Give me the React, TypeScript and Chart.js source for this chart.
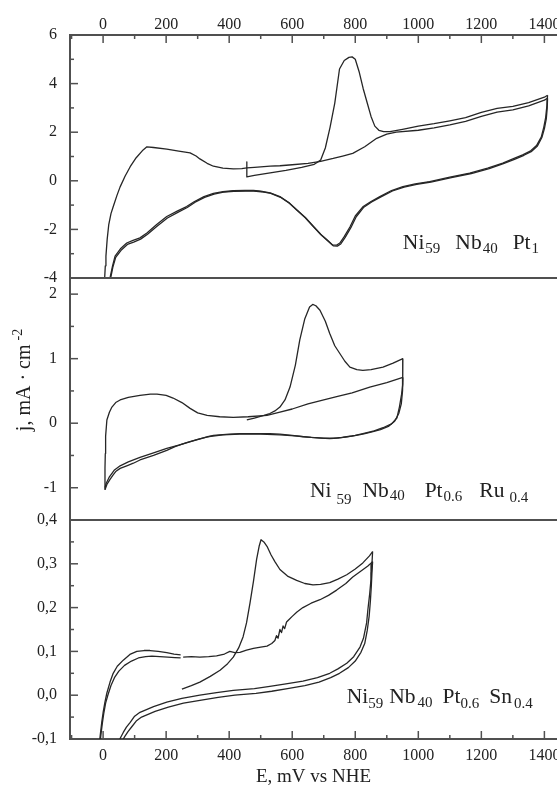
import React, { useEffect, useRef } from 'react';
import { Chart, registerables } from 'chart.js';

Chart.register(...registerables);

// ---------- axis ticks ----------
const xTickValues = [-100, 0, 100, 200, 300, 400, 500, 600, 700, 800, 900, 1000, 1100, 1200, 1300, 1400];
const xLabelValues = [0, 200, 400, 600, 800, 1000, 1200, 1400];
const y1TickValues = [-4, -3, -2, -1, 0, 1, 2, 3, 4, 5, 6];
const y1LabelValues = [-4, -2, 0, 2, 4, 6];
const y2TickValues = [-1.5, -1, -0.5, 0, 0.5, 1, 1.5, 2];
const y2LabelValues = [-1, 0, 1, 2];
const y3TickValues = [-0.1, -0.05, 0, 0.05, 0.1, 0.15, 0.2, 0.25, 0.3, 0.35, 0.4];
const y3LabelValues = [-0.1, 0, 0.1, 0.2, 0.3, 0.4];

// ---------- panel 1: Ni59 Nb40 Pt1 ----------
const pt1StripE = [456, 456, 480, 530, 580, 630, 670, 690, 705, 720, 735, 750, 765, 780, 790, 800, 812, 825, 838, 850, 862, 875, 890, 910, 950, 1000, 1050, 1100, 1150, 1200, 1250, 1300, 1350, 1400, 1410];
const pt1StripJ = [0.78, 0.16, 0.22, 0.33, 0.43, 0.55, 0.68, 0.85, 1.35, 2.2, 3.2, 4.6, 4.95, 5.08, 5.1, 5.0, 4.5, 3.8, 3.2, 2.65, 2.25, 2.08, 2.02, 2.02, 2.12, 2.25, 2.35, 2.47, 2.6, 2.82, 2.98, 3.06, 3.22, 3.44, 3.52];

const pt1CathAE = [1410, 1408, 1404, 1398, 1390, 1375, 1355, 1331, 1300, 1268, 1220, 1163, 1100, 1036, 990, 951, 915, 878, 850, 824, 800, 783, 765, 751, 740, 728, 712, 690, 666, 640, 614, 590, 561, 530, 500, 477, 450, 413, 380, 350, 320, 290, 265, 235, 202, 170, 139, 117, 95, 75, 55, 38, 30, 22];
const pt1CathAJ = [3.52, 3.1, 2.6, 2.2, 1.8, 1.45, 1.22, 1.07, 0.9, 0.73, 0.52, 0.32, 0.15, -0.03, -0.13, -0.24, -0.4, -0.65, -0.85, -1.07, -1.45, -1.9, -2.3, -2.56, -2.65, -2.64, -2.45, -2.2, -1.87, -1.5, -1.2, -0.9, -0.65, -0.5, -0.43, -0.4, -0.4, -0.41, -0.45, -0.52, -0.65, -0.85, -1.06, -1.25, -1.47, -1.8, -2.15, -2.35, -2.45, -2.56, -2.8, -3.1, -3.5, -4.0];

const pt1AnodE = [5, 7, 9, 13, 18, 25, 32, 44, 54, 70, 86, 105, 127, 139, 160, 202, 240, 276, 295, 307, 330, 350, 380, 413, 440, 456, 480, 530, 561, 600, 650, 690, 730, 760, 792, 830, 868, 900, 930, 1000, 1050, 1100, 1150, 1200, 1250, 1300, 1350, 1400, 1410];
const pt1AnodJ = [-4.0, -3.5, -3.1, -2.4, -1.8, -1.35, -1.07, -0.6, -0.25, 0.2, 0.58, 0.95, 1.27, 1.4, 1.37, 1.3, 1.22, 1.15, 1.02, 0.9, 0.72, 0.6, 0.52, 0.49, 0.5, 0.53, 0.55, 0.6, 0.62, 0.66, 0.72, 0.8, 0.92, 1.02, 1.13, 1.4, 1.75, 1.92, 2.0, 2.08, 2.18, 2.3, 2.45, 2.65, 2.83, 2.92, 3.08, 3.32, 3.4];

const pt1CathBE = [1410, 1409, 1406, 1400, 1392, 1378, 1358, 1335, 1305, 1270, 1225, 1168, 1105, 1040, 995, 955, 918, 880, 852, 826, 803, 786, 768, 754, 743, 731, 715, 693, 669, 643, 617, 592, 563, 532, 502, 478, 452, 415, 382, 352, 322, 292, 267, 237, 204, 172, 141, 119, 97, 77, 57, 40, 31, 24];
const pt1CathBJ = [3.4, 3.0, 2.55, 2.15, 1.78, 1.43, 1.2, 1.05, 0.88, 0.71, 0.5, 0.3, 0.13, -0.05, -0.15, -0.26, -0.42, -0.67, -0.87, -1.1, -1.48, -1.93, -2.33, -2.6, -2.69, -2.68, -2.5, -2.24, -1.9, -1.53, -1.22, -0.93, -0.68, -0.52, -0.45, -0.42, -0.42, -0.43, -0.47, -0.55, -0.68, -0.88, -1.1, -1.3, -1.53, -1.86, -2.2, -2.4, -2.52, -2.62, -2.86, -3.15, -3.55, -4.0];

// ---------- panel 2: Ni59 Nb40 Pt0.6 Ru0.4 ----------
const ruStripE = [456, 480, 510, 529, 545, 561, 577, 593, 610, 624, 640, 655, 665, 675, 688, 705, 719, 735, 751, 767, 783, 805, 824, 850, 888, 920, 951];
const ruStripJ = [0.05, 0.08, 0.12, 0.15, 0.19, 0.25, 0.36, 0.56, 0.9, 1.29, 1.62, 1.8, 1.84, 1.82, 1.75, 1.58, 1.39, 1.2, 1.08, 0.96, 0.87, 0.83, 0.82, 0.83, 0.87, 0.93, 1.0];

const ruCathAE = [951, 951, 950, 947, 940, 932, 915, 888, 860, 824, 800, 773, 745, 719, 690, 660, 634, 600, 561, 529, 480, 434, 400, 350, 300, 265, 230, 202, 160, 117, 96, 75, 54, 40, 32, 22, 12, 6];
const ruCathAJ = [1.0, 0.8, 0.6, 0.45, 0.25, 0.08, -0.01, -0.07, -0.12, -0.16, -0.19, -0.21, -0.23, -0.24, -0.23, -0.22, -0.21, -0.19, -0.17, -0.16, -0.16, -0.16, -0.17, -0.19, -0.25, -0.3, -0.36, -0.42, -0.5, -0.57, -0.62, -0.66, -0.7, -0.75, -0.8, -0.87, -0.95, -1.03];

const ruAnodE = [6, 6, 7, 8, 12, 20, 28, 40, 54, 80, 117, 150, 171, 200, 222, 250, 276, 300, 330, 370, 413, 460, 520, 561, 600, 650, 700, 741, 790, 846, 900, 951];
const ruAnodJ = [-1.03, -0.7, -0.47, -0.2, 0.05, 0.17, 0.25, 0.32, 0.36, 0.4, 0.43, 0.45, 0.45, 0.43, 0.39, 0.32, 0.23, 0.16, 0.12, 0.1, 0.09, 0.1, 0.12, 0.17, 0.22, 0.3, 0.36, 0.41, 0.47, 0.56, 0.63, 0.71];

const ruCathBE = [951, 950, 946, 938, 925, 905, 880, 850, 824, 790, 760, 730, 700, 660, 620, 561, 500, 434, 380, 330, 280, 240, 202, 160, 117, 80, 54, 35, 20, 10, 6];
const ruCathBJ = [0.71, 0.5, 0.3, 0.15, 0.03, -0.05, -0.1, -0.14, -0.17, -0.2, -0.22, -0.23, -0.23, -0.22, -0.2, -0.18, -0.17, -0.17, -0.18, -0.21, -0.28, -0.34, -0.39, -0.46, -0.53, -0.6, -0.66, -0.73, -0.83, -0.93, -1.0];

// ---------- panel 3: Ni59 Nb40 Pt0.6 Sn0.4 ----------
const snStripE = [250, 280, 307, 340, 371, 395, 413, 430, 444, 455, 466, 477, 487, 495, 501, 510, 520, 533, 545, 561, 585, 614, 640, 666, 690, 719, 745, 773, 800, 824, 845, 855];
const snStripJ = [0.014, 0.022, 0.03, 0.043, 0.057, 0.072, 0.087, 0.108, 0.133, 0.165, 0.21, 0.26, 0.31, 0.34, 0.355, 0.35, 0.34, 0.32, 0.305, 0.287, 0.272, 0.262, 0.255, 0.252, 0.253, 0.257, 0.265, 0.275, 0.288, 0.302, 0.318, 0.328];

const snCathAE = [855, 853, 850, 846, 840, 836, 826, 815, 795, 773, 745, 719, 680, 634, 580, 529, 480, 413, 360, 307, 250, 202, 160, 117, 100, 86, 74, 64, 56, 50, 44];
const snCathAJ = [0.328, 0.3, 0.265, 0.233, 0.195, 0.165, 0.13, 0.11, 0.088, 0.073, 0.06, 0.05, 0.04, 0.032, 0.026, 0.02, 0.015, 0.011, 0.006, 0.0, -0.007, -0.016, -0.026, -0.039, -0.048, -0.062, -0.073, -0.085, -0.096, -0.105, -0.115];

const snCathBE = [855, 853, 851, 848, 844, 838, 830, 818, 800, 778, 750, 722, 685, 640, 585, 535, 485, 418, 365, 312, 255, 207, 165, 122, 105, 91, 79, 69, 61, 55, 49];
const snCathBJ = [0.305, 0.28, 0.25, 0.215, 0.18, 0.148, 0.118, 0.098, 0.078, 0.063, 0.05, 0.04, 0.03, 0.022, 0.015, 0.009, 0.004, 0.0, -0.005, -0.011, -0.018, -0.027, -0.037, -0.05, -0.059, -0.072, -0.083, -0.094, -0.104, -0.112, -0.12];

const snAnodAE = [-14, -12, -8, -4, 0, 6, 12, 22, 32, 45, 64, 85, 107, 130, 149, 175, 202, 225, 246];
const snAnodAJ = [-0.12, -0.11, -0.085, -0.06, -0.04, -0.015, 0.005, 0.03, 0.05, 0.066, 0.08, 0.093, 0.1, 0.102, 0.102, 0.1, 0.097, 0.094, 0.092];

const snAnodBE = [-12, -10, -6, -2, 2, 8, 15, 25, 36, 50, 68, 90, 112, 135, 155, 180, 205, 228, 246];
const snAnodBJ = [-0.12, -0.11, -0.085, -0.062, -0.042, -0.018, 0.0, 0.022, 0.04, 0.055, 0.068, 0.078, 0.085, 0.088, 0.089, 0.088, 0.087, 0.086, 0.085];

const snSecondE = [254, 280, 307, 335, 360, 385, 402, 418, 434, 455, 477, 500, 520, 535, 545, 550, 555, 561, 566, 571, 576, 582, 590, 600, 615, 634, 660, 688, 715, 741, 770, 792, 815, 840, 855];
const snSecondJ = [0.087, 0.088, 0.087, 0.088, 0.09, 0.094, 0.1, 0.097, 0.098, 0.103, 0.107, 0.11, 0.112, 0.118, 0.125, 0.136, 0.13, 0.15, 0.143, 0.158, 0.152, 0.167, 0.173, 0.18, 0.19, 0.2, 0.21, 0.218, 0.228, 0.24, 0.255, 0.27, 0.282, 0.295, 0.305];

// ---------- composition labels ----------
const compositionLabels = [
  { yAxis: 'y1', E: 951, j: -2.79, parts: [
    { t: 'Ni', s: '59', pad: 1, drop: 4, gap: 15 },
    { t: 'Nb', s: '40', pad: 1, drop: 4, gap: 15 },
    { t: 'Pt', s: '1', pad: 1, drop: 4, gap: 0 },
  ] },
  { yAxis: 'y2', E: 656, j: -1.15, parts: [
    { t: 'Ni', s: '59', pad: 5, drop: 7, gap: 11 },
    { t: 'Nb', s: '40', pad: 1, drop: 3, gap: 20 },
    { t: 'Pt', s: '0.6', pad: 1, drop: 4, gap: 17 },
    { t: 'Ru', s: '0.4', pad: 5, drop: 5, gap: 0 },
  ] },
  { yAxis: 'y3', E: 773, j: -0.018, parts: [
    { t: 'Ni', s: '59', pad: 0, drop: 5, gap: 6 },
    { t: 'Nb', s: '40', pad: 2, drop: 4, gap: 10 },
    { t: 'Pt', s: '0.6', pad: 0, drop: 5, gap: 10 },
    { t: 'Sn', s: '0.4', pad: 2, drop: 5, gap: 0 },
  ] },
];

const FONT = '"Liberation Serif", "Times New Roman", serif';
const TEXT = '#222222';
const AXIS = '#505050';
const LINE = '#262626';

const pts = (E: number[], J: number[]) => E.map((e, i) => ({ x: e, y: J[i] }));

const setTicks = (values: number[]) => (scale: any) => {
  scale.ticks = values.map((v) => ({ value: v }));
};

const decor = {
  id: 'decor',
  afterDraw(chart: any) {
    const ctx = chart.ctx;
    const area = chart.chartArea;
    ctx.save();
    // inward tick marks
    ctx.strokeStyle = AXIS;
    ctx.lineWidth = 1.5;
    Object.keys(chart.scales).forEach((id) => {
      const s = chart.scales[id];
      s.ticks.forEach((t: any) => {
        if (t.value < s.min - 1e-9 || t.value > s.max + 1e-9) return;
        const major = t.label !== '' && t.label != null;
        const len = major ? 8 : 4;
        const p = s.getPixelForValue(t.value);
        ctx.beginPath();
        if (s.axis === 'y') {
          ctx.moveTo(s.right, p);
          ctx.lineTo(s.right + len, p);
        } else if (s.position === 'bottom') {
          ctx.moveTo(p, s.top);
          ctx.lineTo(p, s.top - len);
        } else {
          ctx.moveTo(p, s.bottom);
          ctx.lineTo(p, s.bottom + len);
        }
        ctx.stroke();
      });
    });
    // panel separators
    ctx.lineWidth = 2;
    ['y2', 'y3'].forEach((id) => {
      const s = chart.scales[id];
      ctx.beginPath();
      ctx.moveTo(area.left, s.top);
      ctx.lineTo(area.right, s.top);
      ctx.stroke();
    });
    // y axis title with superscript
    ctx.fillStyle = TEXT;
    ctx.translate(30, 380);
    ctx.rotate(-Math.PI / 2);
    ctx.textBaseline = 'alphabetic';
    ctx.textAlign = 'left';
    const main = 'j, mA · cm';
    const sup = '-2';
    ctx.font = `20px ${FONT}`;
    const wMain = ctx.measureText(main).width;
    ctx.font = `14px ${FONT}`;
    const wSup = ctx.measureText(sup).width;
    const total = wMain + 4 + wSup;
    ctx.font = `20px ${FONT}`;
    ctx.fillText(main, -total / 2, 0);
    ctx.font = `14px ${FONT}`;
    ctx.fillText(sup, -total / 2 + wMain + 4, -8);
    ctx.restore();

    // composition labels
    ctx.save();
    ctx.fillStyle = TEXT;
    ctx.textBaseline = 'alphabetic';
    ctx.textAlign = 'left';
    compositionLabels.forEach((lab) => {
      let x = chart.scales.x.getPixelForValue(lab.E);
      const y = chart.scales[lab.yAxis].getPixelForValue(lab.j);
      lab.parts.forEach((p) => {
        ctx.font = `21.5px ${FONT}`;
        ctx.fillText(p.t, x, y);
        x += ctx.measureText(p.t).width + p.pad;
        ctx.font = `15px ${FONT}`;
        ctx.fillText(p.s, x, y + p.drop);
        x += ctx.measureText(p.s).width + p.gap;
      });
    });
    ctx.restore();
  },
};

const tickFont = { family: FONT, size: 16 };

const xScale = (position: string, height: number, padding: number, withTitle: boolean) => ({
  type: 'linear',
  position,
  min: -105,
  max: 1440,
  afterBuildTicks: setTicks(xTickValues),
  afterFit: (s: any) => {
    s.height = height;
    s.paddingLeft = 0;
    s.paddingRight = 0;
  },
  grid: { display: false, drawTicks: false },
  border: { display: true, color: AXIS, width: 2 },
  ticks: {
    autoSkip: false,
    maxRotation: 0,
    minRotation: 0,
    padding,
    font: tickFont,
    color: TEXT,
    callback: (v: number) => (xLabelValues.includes(v) ? String(v) : ''),
  },
  title: withTitle
    ? { display: true, text: 'E, mV vs NHE', font: { family: FONT, size: 19 }, color: TEXT, padding: { top: 0, bottom: 0 } }
    : { display: false },
});

const yScale = (min: number, max: number, weight: number, stackWeight: number, ticks: number[], labels: number[], fmt: (v: number) => string) => ({
  type: 'linear',
  position: 'left',
  stack: 'j',
  stackWeight,
  weight,
  min,
  max,
  afterBuildTicks: setTicks(ticks),
  afterFit: (s: any) => {
    s.width = 70;
    s.paddingTop = 0;
    s.paddingBottom = 0;
  },
  grid: { display: false, drawTicks: false },
  border: { display: true, color: AXIS, width: 2 },
  ticks: {
    autoSkip: false,
    padding: 13,
    font: tickFont,
    color: TEXT,
    callback: (v: number) => (labels.includes(v) ? fmt(v) : ''),
  },
});

export default function App() {
  const ref = useRef<HTMLCanvasElement>(null);
  useEffect(() => {
    if (!ref.current) return;
    const line = (E: number[], J: number[], yAxisID: string) => ({
      data: pts(E, J),
      showLine: true,
      borderColor: LINE,
      borderWidth: 1.3,
      pointRadius: 0,
      fill: false,
      tension: 0,
      borderJoinStyle: 'round',
      xAxisID: 'x',
      yAxisID,
    });
    const chart = new Chart(ref.current, {
      type: 'scatter',
      data: {
        datasets: [
          line(pt1StripE, pt1StripJ, 'y1'),
          line(pt1CathAE, pt1CathAJ, 'y1'),
          line(pt1AnodE, pt1AnodJ, 'y1'),
          line(pt1CathBE, pt1CathBJ, 'y1'),
          line(ruStripE, ruStripJ, 'y2'),
          line(ruCathAE, ruCathAJ, 'y2'),
          line(ruAnodE, ruAnodJ, 'y2'),
          line(ruCathBE, ruCathBJ, 'y2'),
          line(snStripE, snStripJ, 'y3'),
          line(snCathAE, snCathAJ, 'y3'),
          line(snCathBE, snCathBJ, 'y3'),
          line(snAnodAE, snAnodAJ, 'y3'),
          line(snAnodBE, snAnodBJ, 'y3'),
          line(snSecondE, snSecondJ, 'y3'),
        ] as any,
      },
      options: {
        animation: false,
        responsive: false,
        devicePixelRatio: 1,
        layout: { padding: 0 },
        plugins: { legend: { display: false }, tooltip: { enabled: false } },
        scales: {
          x: xScale('bottom', 49, 7, true),
          x2: xScale('top', 35, 1, false),
          y1: yScale(-4, 6, 3, 243, y1TickValues, y1LabelValues, (v) => String(v)),
          y2: yScale(-1.5, 2.25, 2, 242, y2TickValues, y2LabelValues, (v) => String(v)),
          y3: yScale(-0.1, 0.4, 1, 219, y3TickValues, y3LabelValues, (v) => v.toFixed(1).replace('.', ',')),
        } as any,
      },
      plugins: [decor],
    });
    return () => chart.destroy();
  }, []);
  return (
    <div style={{ position: 'absolute', left: 0, top: 0, width: 557, height: 788, background: '#fff' }}>
      <canvas ref={ref} width={557} height={788} />
    </div>
  );
}
